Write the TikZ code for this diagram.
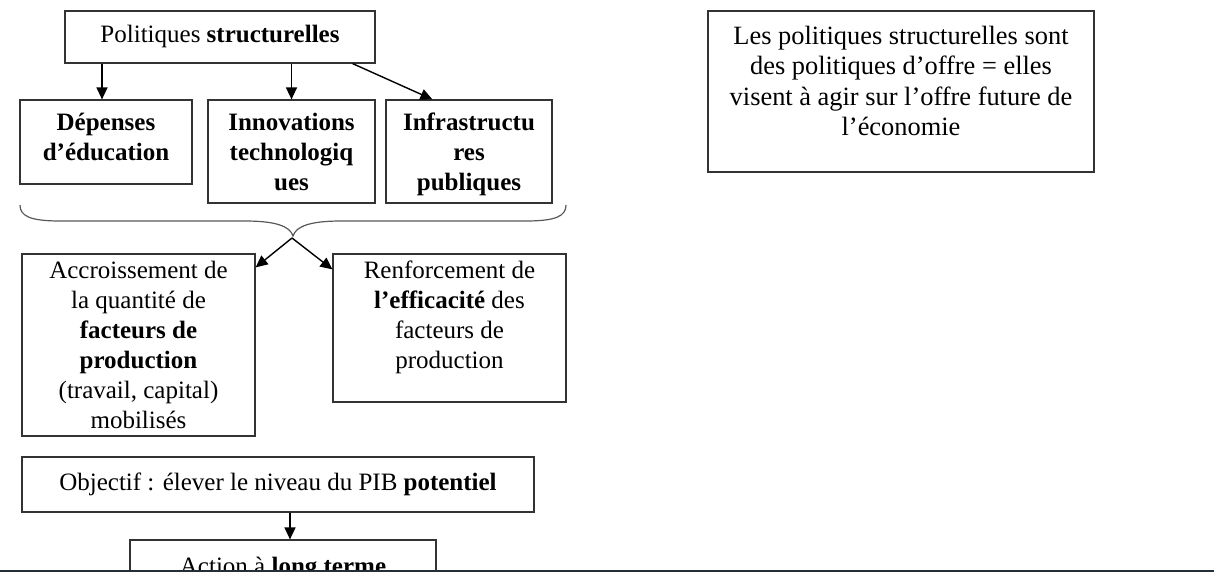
\documentclass[tikz,border=0pt]{standalone}
\usepackage{fontspec}
\setmainfont{Liberation Serif}
\usetikzlibrary{positioning,arrows.meta}
\definecolor{edge}{RGB}{37,45,53}
\tikzset{box/.style={draw=black!80,line width=0.6pt,inner sep=0pt}}
\tikzset{arr/.style={-{Triangle[length=6pt,width=5.5pt]},line width=0.7pt}}
\tikzset{brace/.style={draw=black!65,line width=0.6pt}}
\newcommand{\boxtxt}[4]{\begin{minipage}[c][#2][t]{#1}\centering\vspace*{#3}\strut#4\end{minipage}}

\begin{document}
\begin{tikzpicture}[x=0.5pt,y=-0.5pt,every node/.style={font=\fontsize{12.5}{15}\selectfont}]
\clip (0,0) rectangle (1214,572);
\fill[white] (0,0) rectangle (1214,572);

\node[box] (pol) at (220,37) {\boxtxt{155pt}{26pt}{5.5pt}{Politiques \textbf{structurelles}}};
\node[box] (dep) at (106,142) {\boxtxt{86pt}{42pt}{5pt}{\textbf{Dépenses}\\\textbf{d’éducation}}};
\node[box] (inn) at (291.5,151.5) {\boxtxt{83.5pt}{51.5pt}{5pt}{\textbf{Innovations}\\\textbf{technologiq}\\\textbf{ues}}};
\node[box] (inf) at (469,151.5) {\boxtxt{83pt}{51.5pt}{5pt}{\textbf{Infrastructu}\\\textbf{res}\\\textbf{publiques}}};

\draw[arr] ([xshift=-2pt]dep.north |- pol.south) -- ([xshift=-2pt]dep.north);
\draw[arr] (inn.north |- pol.south) -- (inn.north);
\draw[arr] ([xshift=-11.5pt]pol.south east) -- ([xshift=23.5pt]inf.north west);

% accolade
\draw[brace] (20,205) .. controls (20,216) and (30,221) .. (60,221) -- (245,221)
  .. controls (275,221) and (290,226) .. (293,236)
  .. controls (296,226) and (311,221) .. (341,221) -- (526,221)
  .. controls (556,221) and (566,216) .. (566,205);
\coordinate (tip) at (292,238);

\node[box] (acc) at (138.5,345) {\boxtxt{116.5pt}{91pt}{1.5pt}{Accroissement de\\la quantité de\\\textbf{facteurs de}\\\textbf{production}\\(travail, capital)\\mobilisés}};
\node[box] (ren) at (449.5,328) {\boxtxt{116.5pt}{74pt}{1.5pt}{Renforcement de\\\textbf{l’efficacité} des\\facteurs de\\production}};

\draw[arr] (tip) -- ([yshift=-7pt]acc.north east);
\draw[arr] (tip) -- ([yshift=-8pt]ren.north west);

\node[box] (obj) at (278,484.5) {\boxtxt{256pt}{27.5pt}{6pt}{Objectif : élever le niveau du PIB \textbf{potentiel}}};
\node[box] (act) at (283,580) {\boxtxt{153pt}{40pt}{6.5pt}{Action à \textbf{long terme}}};
\coordinate (o) at ([xshift=6pt]obj.south);
\draw[arr] (o) -- (o |- act.north);

\node[box,font=\fontsize{13.2}{15.2}\selectfont] (note) at (901,91.5) {\boxtxt{193pt}{80.5pt}{6pt}{Les politiques structurelles sont\\des politiques d’offre = elles\\visent à agir sur l’offre future de\\l’économie}};

\draw[edge,line width=1.5pt] (0,571) -- (1214,571);
\end{tikzpicture}
\end{document}
